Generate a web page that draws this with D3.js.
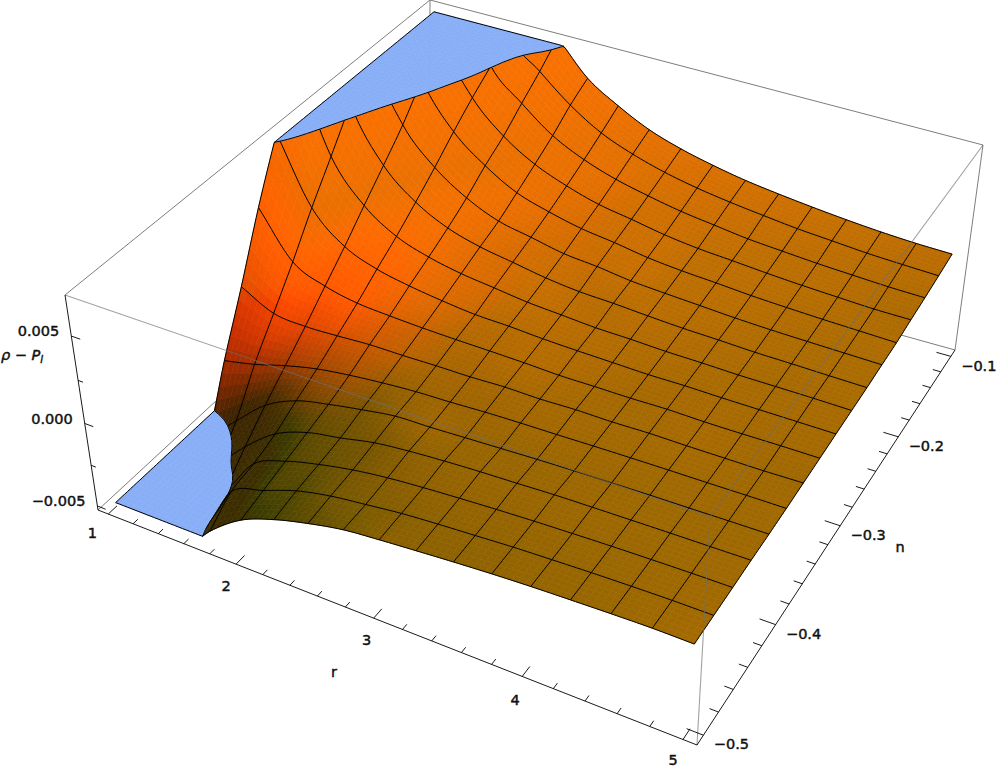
<!DOCTYPE html>
<html><head><meta charset="utf-8">
<script src="https://cdnjs.cloudflare.com/ajax/libs/d3/7.8.5/d3.min.js"></script>
<style>html,body{margin:0;padding:0;background:#fff}svg{display:block}</style>
</head><body><svg id="c" width="1000" height="770"></svg>
<script>
// mesh positions
const rValues=[1,1.25,1.5,1.75,2,2.25,2.5,2.75,3,3.25,3.5,3.75,4,4.25,4.5,4.75,5];
const nValues=[-0.5,-0.475,-0.45,-0.425,-0.4,-0.375,-0.35,-0.325,-0.3,-0.275,-0.25,-0.225,-0.2,-0.175,-0.15,-0.125,-0.1];
// rho - P_l in units of 1e-3, one array per n value, entries follow rValues
const zN00=[-9,-6.75,-6.5,-4.5,-3.05,-2.25,-1.71,-1.3,-1.1,-.94,-.79,-.66,-.56,-.49,-.43,-.39,-.41];
const zN01=[-8.75,-6.5,-6.5,-3.46,-2.66,-1.94,-1.5,-1.24,-1,-.85,-.73,-.61,-.53,-.46,-.41,-.38,-.38];
const zN02=[-8.38,-6.5,-5.5,-3.13,-2.26,-1.73,-1.33,-1.06,-.89,-.76,-.65,-.56,-.49,-.43,-.39,-.36,-.35];
const zN03=[-7.75,-6,-4.13,-2.64,-1.86,-1.48,-1.06,-.84,-.7,-.6,-.53,-.45,-.41,-.38,-.35,-.33,-.31];
const zN04=[-6.2,-4.5,-2.86,-1.91,-1.45,-1.09,-.79,-.74,-.66,-.58,-.5,-.44,-.4,-.36,-.34,-.31,-.29];
const zN05=[-2.65,-2.24,-1.68,-1.23,-.95,-.75,-.61,-.55,-.46,-.41,-.38,-.34,-.31,-.29,-.28,-.26,-.25];
const zN06=[.66,-.33,-.5,-.44,-.34,-.34,-.31,-.31,-.25,-.28,-.23,-.25,-.21,-.23,-.23,-.23,-.19];
const zN07=[4.2,1.61,.76,.35,.2,.1,.04,0,-.05,-.13,-.13,-.14,-.11,-.15,-.15,-.13,-.13];
const zN08=[7.38,3.7,2,1.24,.84,.56,.35,.28,.16,.09,.04,-.01,0,-.03,-.04,-.05,-.06];
const zN09=[10.38,5.63,3.34,2.09,1.44,1.04,.79,.54,.4,.26,.21,.13,.1,.05,.04,.03,0];
const zN10=[13.5,7.63,4.65,3.05,2.08,1.53,1.19,.85,.63,.54,.41,.3,.24,.16,.13,.09,.06];
const zN11=[17.25,9.75,6,4.06,2.81,1.99,1.59,1.19,1,.74,.6,.48,.36,.28,.23,.19,.15];
const zN12=[21,12.25,7.63,5.15,3.69,2.63,2.04,1.6,1.33,1.01,.81,.68,.53,.43,.35,.29,.23];
const zN13=[24.75,14.75,9.13,6.16,4.44,3.3,2.55,1.99,1.65,1.29,1.04,.89,.73,.6,.5,.41,.39];
const zN14=[28.5,17.25,11,7.06,5.4,4.01,3.1,2.46,2.01,1.63,1.36,1.1,.94,.79,.68,.58,.53];
const zN15=[32.25,19.75,12.88,8,6.33,4.85,3.71,2.96,2.4,1.99,1.68,1.43,1.2,1.04,.88,.78,.7];
const zN16=[36,22.25,14.75,9,7.38,5.5,4.36,3.44,2.81,2.34,1.96,1.68,1.44,1.23,1.06,.94,.88];
const zRows=[zN00,zN01,zN02,zN03,zN04,zN05,zN06,zN07,zN08,zN09,zN10,zN11,zN12,zN13,zN14,zN15,zN16];
// axes
const rTicks=[1,2,3,4,5], rLabels=["1","2","3","4","5"];
const nTicks=[-0.5,-0.4,-0.3,-0.2,-0.1], nLabels=["\u22120.5","\u22120.4","\u22120.3","\u22120.2","\u22120.1"];
const zTicks=[-5,0,5], zLabels=["\u22120.005","0.000","0.005"];
const rMinor=[1.2,1.4,1.6,1.8,2.2,2.4,2.6,2.8,3.2,3.4,3.6,3.8,4.2,4.4,4.6,4.8];
const nMinor=[-.48,-.46,-.44,-.42,-.38,-.36,-.34,-.32,-.28,-.26,-.24,-.22,-.18,-.16,-.14,-.12];
const zMinor=[-2.5,2.5];
const rRange=[1,5], nRange=[-0.5,-0.1], zRange=[-5,7];

// box corners on the page: A(r min,n min) B(r max,n min) C(r max,n max) D(r min,n max)
const boxBottom=[[98,510],[697,745],[955,350],[429,204]];
const boxTop=[[65,295],[710,517],[983,145],[430,0]];
const topWeight=.93;
function homography(q){
  const [p0,p1,p2,p3]=q;
  const dx1=p1[0]-p2[0],dx2=p3[0]-p2[0],sx=p0[0]-p1[0]+p2[0]-p3[0];
  const dy1=p1[1]-p2[1],dy2=p3[1]-p2[1],sy=p0[1]-p1[1]+p2[1]-p3[1];
  const den=dx1*dy2-dx2*dy1;
  const g=(sx*dy2-dx2*sy)/den,h=(dx1*sy-sx*dy1)/den;
  return [p1[0]-p0[0]+g*p1[0],p3[0]-p0[0]+h*p3[0],p0[0],p1[1]-p0[1]+g*p1[1],p3[1]-p0[1]+h*p3[1],p0[1],g,h,1];
}
const H0=homography(boxBottom),H1=homography(boxTop);
function box(u,v,w){
  const a=(H,i)=>H[i]*u+H[i+1]*v+H[i+2];
  const k=w*topWeight,m=1-w;
  const X=m*a(H0,0)+k*a(H1,0),Y=m*a(H0,3)+k*a(H1,3),W=m*a(H0,6)+k*a(H1,6);
  return [X/W,Y/W,W];
}
const uS=d3.scaleLinear().domain(rRange).range([.02,.98]);
const vS=d3.scaleLinear().domain(nRange).range([.02,.98]);
const wS=d3.scaleLinear().domain(zRange).range([.02,.98]);
const proj=(r,n,z)=>box(uS(r),vS(n),wS(z));
const iToR=d3.scaleLinear().domain([0,rValues.length-1]).range(rRange);
const jToN=d3.scaleLinear().domain([0,nValues.length-1]).range(nRange);

// refine the mesh for drawing
const NI=rValues.length-1,NJ=nValues.length-1,S=6;
const cr=(a,b,c,d,t)=>.5*(2*b+(c-a)*t+(2*a-5*b+4*c-d)*t*t+(3*b-a-3*c+d)*t*t*t);
function at(i,j){
  const ci=Math.max(0,Math.min(NI,i)),cj=Math.max(0,Math.min(NJ,j));
  let z=zRows[cj][ci];
  if(i<0) z=2*zRows[cj][0]-zRows[cj][1];
  if(i>NI) z=2*zRows[cj][NI]-zRows[cj][NI-1];
  if(j<0) z+=zRows[0][ci]-zRows[1][ci];
  if(j>NJ) z+=zRows[NJ][ci]-zRows[NJ-1][ci];
  return z;
}
function zAt(fi,fj){
  const i=Math.min(NI-1,Math.floor(fi)),j=Math.min(NJ-1,Math.floor(fj)),s=fi-i,t=fj-j;
  const col=[-1,0,1,2].map(d=>cr(at(i-1,j+d),at(i,j+d),at(i+1,j+d),at(i+2,j+d),s));
  return cr(col[0],col[1],col[2],col[3],t);
}
const F=d3.range(NJ*S+1).map(b=>d3.range(NI*S+1).map(a=>zAt(a/S,b/S)));

// shading from the surface slope in box units, with a warm lift on the raised part
const clampW=z=>wS(Math.max(-9,Math.min(14,z)));
function shade(fi,fj){
  const h=1,cell=.06;
  const i0=Math.max(0,fi-h),i1=Math.min(NI,fi+h),j0=Math.max(0,fj-h),j1=Math.min(NJ,fj+h);
  const p=(clampW(zAt(i1,fj))-clampW(zAt(i0,fj)))/((i1-i0)*cell);
  const q=(clampW(zAt(fi,j1))-clampW(zAt(fi,j0)))/((j1-j0)*cell);
  const len=Math.sqrt(1+p*p+q*q);
  const steep=Math.min(70,200*Math.max(0,q/len-.4))*Math.max(0,Math.min(1,1-.5*p));
  const z=zAt(fi,fj);
  const t=Math.max(0,Math.min(1,z/.6));
  const lift=t*(160+95*(1-Math.exp(-z/2.5)));
  const R=Math.max(lift,60+Math.max(0,100-115*p+48*q)/len+steep);
  const base=45+60*Math.max(0,1-.6*p+.07*q)/len-25*Math.max(0,q/len-.4);
  const floor=Math.min(112,104+z*3)-70*Math.max(0,q/len-.55);
  const G=base+t*Math.max(0,floor-base);
  return d3.rgb(Math.min(255,R),Math.min(255,G),0).formatHex();
}

// clip a polygon of [r,n,z] against z<=lim (sign=1) or z>=lim (sign=-1)
function clipPoly(poly,lim,sign,segs){
  const out=[];const cross=[];
  for(let k=0;k<poly.length;k++){
    const a=poly[k],b=poly[(k+1)%poly.length];
    const ia=sign*(a[2]-lim)<=0,ib=sign*(b[2]-lim)<=0;
    if(ia) out.push(a);
    if(ia!==ib){
      const t=(lim-a[2])/(b[2]-a[2]);
      const x=[a[0]+t*(b[0]-a[0]),a[1]+t*(b[1]-a[1]),lim];
      out.push(x);cross.push(x);
    }
  }
  if(segs&&cross.length===2) segs.push(cross);
  return out;
}
const pathOf=(poly)=>"M"+poly.map(p=>{const q=proj(p[0],p[1],p[2]);return q[0].toFixed(2)+","+q[1].toFixed(2);}).join("L")+"Z";

const quads=[],clipSegs=[];
const capColor="#88aef7";
for(let b=0;b<NJ*S;b++)for(let a=0;a<NI*S;a++){
  const c=(x,y)=>[iToR(x/S),jToN(y/S),F[y][x]];
  const poly=[c(a,b),c(a+1,b),c(a+1,b+1),c(a,b+1)];
  const depth=proj(iToR((a+.5)/S),jToN((b+.5)/S),1)[2];
  const col=shade((a+.5)/S,(b+.5)/S);
  const hi=d3.max(poly,p=>p[2]),lo=d3.min(poly,p=>p[2]);
  if(lo>=zRange[0]&&hi<=zRange[1]){quads.push({d:pathOf(poly),f:col,depth});continue;}
  const mid=clipPoly(clipPoly(poly,zRange[1],1,clipSegs),zRange[0],-1,clipSegs);
  if(mid.length>2) quads.push({d:pathOf(mid),f:col,depth});
  const up=clipPoly(poly,zRange[1],-1).map(p=>[p[0],p[1],zRange[1]]);
  if(up.length>2) quads.push({d:pathOf(up),f:capColor,depth});
  const dn=clipPoly(poly,zRange[0],1).map(p=>[p[0],p[1],zRange[0]]);
  if(dn.length>2) quads.push({d:pathOf(dn),f:capColor,depth});
}
quads.sort((x,y)=>y.depth-x.depth);

const svg=d3.select("#c");
const corners={A:[0,0,0],B:[1,0,0],C:[1,1,0],D:[0,1,0],At:[0,0,1],Bt:[1,0,1],Ct:[1,1,1],Dt:[0,1,1]};
const edge=(a,b)=>{const p=box(...corners[a]),q=box(...corners[b]);return `M${p[0]},${p[1]}L${q[0]},${q[1]}`;};

// box edges behind the surface
svg.append("g").selectAll("path").data([["A","D"],["D","C"],["D","Dt"],["At","Dt"],["Dt","Ct"],["C","Ct"]]).join("path")
  .attr("d",e=>edge(e[0],e[1])).attr("fill","none").attr("stroke","#6e6e6e").attr("stroke-width",.9);

// surface
svg.append("g").selectAll("path").data(quads).join("path")
  .attr("d",d=>d.d).attr("fill",d=>d.f).attr("stroke",d=>d.f).attr("stroke-width",.6).attr("stroke-linejoin","round");

// mesh
const line=d3.path();
function addPolyline(pts){
  for(let k=0;k<pts.length-1;k++){
    let a=pts[k],b=pts[k+1];
    const inA=a[2]>=zRange[0]&&a[2]<=zRange[1],inB=b[2]>=zRange[0]&&b[2]<=zRange[1];
    if(!inA&&!inB) continue;
    const trim=(x,y)=>{const lim=y[2]>zRange[1]?zRange[1]:zRange[0];const t=(lim-x[2])/(y[2]-x[2]);return [x[0]+t*(y[0]-x[0]),x[1]+t*(y[1]-x[1]),lim];};
    if(!inA) a=trim(b,a);
    if(!inB) b=trim(a,b);
    const p=proj(...a),q=proj(...b);
    line.moveTo(p[0],p[1]);line.lineTo(q[0],q[1]);
  }
}
const M=8;
d3.range(1,NJ).forEach(j=>addPolyline(d3.range(NI*M+1).map(a=>[iToR(a/M),nValues[j],zAt(a/M,j)])));
d3.range(1,NI).forEach(i=>addPolyline(d3.range(NJ*M+1).map(b=>[rValues[i],jToN(b/M),zAt(i,b/M)])));
clipSegs.forEach(s=>{const p=proj(...s[0]),q=proj(...s[1]);line.moveTo(p[0],p[1]);line.lineTo(q[0],q[1]);});
svg.append("path").attr("d",line.toString()).attr("fill","none").attr("stroke","#000").attr("stroke-width",1);

// outline with heights held to the plot range
const zc=z=>Math.max(zRange[0],Math.min(zRange[1],z));
const outline=d3.line().x(d=>d[0]).y(d=>d[1]);
const border=[
  ...d3.range(NI*M+1).map(a=>[iToR(a/M),nRange[0],zc(zAt(a/M,0))]),
  ...d3.range(NJ*M+1).map(b=>[rRange[1],jToN(b/M),zc(zAt(NI,b/M))]),
  ...d3.range(NI*M,-1,-1).map(a=>[iToR(a/M),nRange[1],zc(zAt(a/M,NJ))]),
  ...d3.range(NJ*M,-1,-1).map(b=>[rRange[0],jToN(b/M),zc(zAt(0,b/M))])
].map(p=>proj(...p));
svg.append("path").attr("d",outline(border)+"Z").attr("fill","none").attr("stroke","#000").attr("stroke-width",1);

// box edges in front of the surface
svg.append("g").selectAll("path").data([["At","Bt"],["Bt","Ct"],["B","Bt"]]).join("path")
  .attr("d",e=>edge(e[0],e[1])).attr("fill","none").attr("stroke","#6e6e6e").attr("stroke-width",1.1).attr("stroke-opacity",.65);

// axes
const ax=svg.append("g").attr("fill","none").attr("stroke","#000").attr("stroke-width",.9);
ax.selectAll("path.e").data([["A","B"],["B","C"],["A","At"]]).join("path").attr("class","e").attr("d",e=>edge(e[0],e[1]));
const tick=(p,q)=>`M${p[0]},${p[1]}L${q[0]},${q[1]}`;
const rTickPath=(r,l)=>tick(box(uS(r),0,0),box(uS(r),l,0));
const nTickPath=(n,l)=>tick(box(1,vS(n),0),box(1-l,vS(n),0));
const zTickPath=(z,l)=>tick(box(0,0,wS(z)),box(l,0,wS(z)));
ax.append("path").attr("d",[...rTicks.map(t=>rTickPath(t,.022)),...rMinor.map(t=>rTickPath(t,.012)),
  ...nTicks.map(t=>nTickPath(t,.024)),...nMinor.map(t=>nTickPath(t,.013)),
  ...zTicks.map(t=>zTickPath(t,.016)),...zMinor.map(t=>zTickPath(t,.009))].join(""));

const txt=svg.append("g").attr("font-family","'DejaVu Sans',sans-serif").attr("font-size",14.5).attr("fill","#111").attr("stroke","#111").attr("stroke-width",.45);
const rOff=[[-16,19],[-10,22],[-7,22],[-7,23],[-10,20]];
txt.selectAll("text.r").data(rTicks).join("text").attr("class","r").attr("text-anchor","middle").attr("dy","0.36em")
  .attr("x",(t,i)=>box(uS(t),0,0)[0]+rOff[i][0]).attr("y",(t,i)=>box(uS(t),0,0)[1]+rOff[i][1]).text((t,i)=>rLabels[i]);
txt.selectAll("text.n").data(nTicks).join("text").attr("class","n").attr("text-anchor","middle").attr("dy","0.36em")
  .attr("x",t=>box(1,vS(t),0)[0]+28).attr("y",t=>box(1,vS(t),0)[1]+9).text((t,i)=>nLabels[i]);
txt.selectAll("text.z").data(zTicks).join("text").attr("class","z").attr("text-anchor","end").attr("dy","0.36em")
  .attr("x",t=>box(0,0,wS(t))[0]-12).attr("y",t=>box(0,0,wS(t))[1]-5).text((t,i)=>zLabels[i]);
txt.append("text").attr("x",334).attr("y",677).attr("text-anchor","middle").text("r");
txt.append("text").attr("x",900).attr("y",552).attr("text-anchor","middle").text("n");
const yl=txt.append("text").attr("x",1).attr("y",360).attr("font-style","italic");
yl.append("tspan").text("\u03c1 \u2212 P");
yl.append("tspan").attr("font-size",10).attr("dy",3).text("l");
</script></body></html>
